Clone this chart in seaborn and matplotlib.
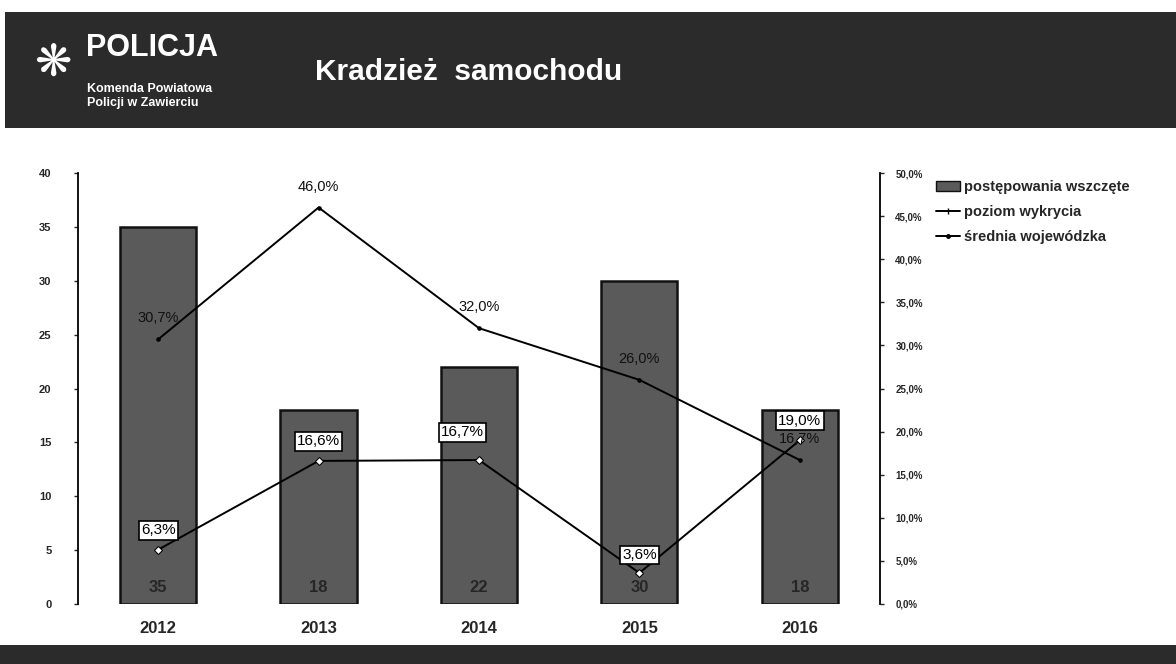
import matplotlib
matplotlib.use("Agg")
import matplotlib.pyplot as plt
import matplotlib.patches as mpatches
from matplotlib.lines import Line2D
import numpy as np
import pandas as pd
import seaborn as sns

# dane
years = ["2012", "2013", "2014", "2015", "2016"]
postepowania = [35, 18, 22, 30, 18]
poziom_wykrycia = [6.3, 16.6, 16.7, 3.6, 19.0]
srednia_woj = [30.7, 46.0, 32.0, 26.0, 16.7]


def pl_pct(v):
    return f"{v:.1f}%".replace(".", ",")


sns.set_theme(style="white")
plt.rcParams["font.family"] = ["Liberation Sans", "DejaVu Sans"]

fig = plt.figure(figsize=(11.76, 6.64), dpi=100)
fig.patch.set_facecolor("white")

# pasek nagłówka i stopki
head = fig.add_axes([0.004, 0.807, 0.996, 0.175])
head.set_facecolor("#2b2b2b")
head.set_xticks([])
head.set_yticks([])
for s in head.spines.values():
    s.set_visible(False)
foot = fig.add_axes([0.0, 0.0, 1.0, 0.029])
foot.set_facecolor("#2b2b2b")
foot.set_xticks([])
foot.set_yticks([])
for s in foot.spines.values():
    s.set_visible(False)

fig.text(0.045, 0.905, "\u274b", color="white", fontsize=32, ha="center", va="center",
         family=["DejaVu Sans"])
fig.text(0.073, 0.927, "POLICJA", color="white", fontsize=22, fontweight="bold",
         ha="left", va="center")
fig.text(0.074, 0.866, "Komenda Powiatowa", color="white", fontsize=9,
         fontweight="bold", ha="left", va="center")
fig.text(0.074, 0.845, "Policji w Zawierciu", color="white", fontsize=9,
         fontweight="bold", ha="left", va="center")
fig.text(0.268, 0.892, "Kradzież  samochodu", color="white", fontsize=21.5,
         fontweight="bold", ha="left", va="center")

# wykres główny
ax = fig.add_axes([0.0663, 0.0904, 0.682, 0.649])
df = pd.DataFrame({"rok": years, "postepowania": postepowania})
sns.barplot(data=df, x="rok", y="postepowania", color="#5a5a5a", width=0.475,
            edgecolor="#111111", linewidth=1.8, saturation=1, ax=ax)
ax.set_ylim(0, 40)
ax.set_yticks(range(0, 41, 5))
ax.set_xlabel("")
ax.set_ylabel("")
ax.tick_params(axis="y", labelsize=8, length=3, width=1, direction="out", pad=16)
ax.tick_params(axis="x", labelsize=12, length=0, pad=12)
for lbl in ax.get_xticklabels():
    lbl.set_fontweight("bold")
for lbl in ax.get_yticklabels():
    lbl.set_fontweight("bold")
ax.spines["top"].set_visible(False)
ax.spines["right"].set_visible(False)
ax.spines["bottom"].set_visible(False)
ax.spines["left"].set_linewidth(1.3)
ax.spines["left"].set_color("black")

for i, v in enumerate(postepowania):
    ax.text(i, 0.8, str(v), ha="center", va="bottom", fontsize=12,
            fontweight="bold", color="#262626")

ax2 = ax.twinx()
xs = np.arange(len(years))
sns.lineplot(x=xs, y=srednia_woj, ax=ax2, color="black", linewidth=1.4,
             marker="o", markersize=2.5, markeredgecolor="black")
sns.lineplot(x=xs, y=poziom_wykrycia, ax=ax2, color="black", linewidth=1.4,
             marker="D", markersize=4, markerfacecolor="white", markeredgecolor="black")
ax2.set_ylim(0, 50)
ax2.set_xlim(-0.5, 4.5)
ax2.set_yticks(range(0, 51, 5))
ax2.set_yticklabels([pl_pct(v) for v in range(0, 51, 5)])
ax2.tick_params(axis="y", labelsize=7, length=3, width=1, direction="out", pad=8)
for lbl in ax2.get_yticklabels():
    lbl.set_fontweight("bold")
for k in ["top", "left", "bottom"]:
    ax2.spines[k].set_visible(False)
ax2.spines["right"].set_linewidth(1.3)
ax2.spines["right"].set_color("black")

for i, v in enumerate(srednia_woj):
    ax2.annotate(pl_pct(v), (i, v), xytext=(0, 10), textcoords="offset points",
                 ha="center", va="bottom", fontsize=10.5, color="#111111")
dy = [14, 14, 20, 13, 14]
dx = [0, 0, -12, 0, 0]
for i, v in enumerate(poziom_wykrycia):
    ax2.annotate(pl_pct(v), (i, v), xytext=(dx[i], dy[i]), textcoords="offset points",
                 ha="center", va="center", fontsize=11, color="black",
                 bbox=dict(boxstyle="square,pad=0.15", fc="white", ec="black", lw=1.2))

handles = [
    mpatches.Patch(facecolor="#5a5a5a", edgecolor="#111111", label="postępowania wszczęte"),
    Line2D([0], [0], color="black", lw=1.4, marker="|", markersize=4,
           label="poziom wykrycia"),
    Line2D([0], [0], color="black", lw=1.4, marker="o", markersize=2.5,
           label="średnia wojewódzka"),
]
leg = fig.legend(handles=handles, loc="upper left", bbox_to_anchor=(0.785, 0.748),
                 frameon=False, fontsize=10.5, handlelength=1.6, handletextpad=0.3,
                 labelspacing=0.75)
for t in leg.get_texts():
    t.set_fontweight("bold")

fig.savefig("out.png", dpi=100)
